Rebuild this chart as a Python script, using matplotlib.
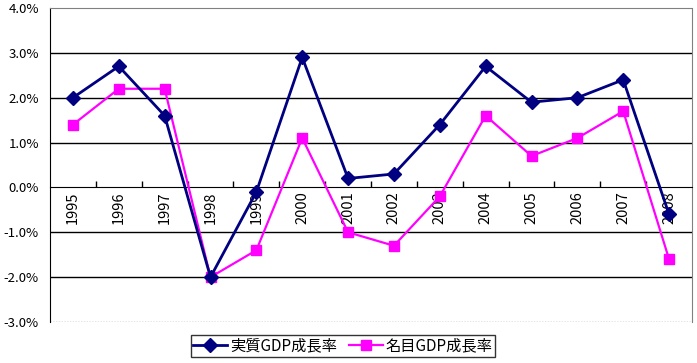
import numpy as np
import matplotlib.pyplot as plt
from matplotlib.ticker import FuncFormatter, FixedLocator

plt.rcParams['font.family'] = ['Noto Sans CJK JP', 'DejaVu Sans']

years = ['1995', '1996', '1997', '1998', '1999', '2000', '2001',
         '2002', '2003', '2004', '2005', '2006', '2007', '2008']
real_gdp = [2.0, 2.7, 1.6, -2.0, -0.1, 2.9, 0.2, 0.3, 1.4, 2.7, 1.9, 2.0, 2.4, -0.6]
nominal_gdp = [1.4, 2.2, 2.2, -2.0, -1.4, 1.1, -1.0, -1.3, -0.2, 1.6, 0.7, 1.1, 1.7, -1.6]
labels = ['実質GDP成長率', '名目GDP成長率']

fig = plt.figure(figsize=(6.97, 3.63), dpi=100)
ax = fig.add_axes([50 / 697, 41 / 363, 642 / 697, 314 / 363])

x = np.arange(len(years))
ax.plot(x, real_gdp, color='#000080', lw=2, marker='D', ms=7,
        label=labels[0], zorder=4)
ax.plot(x, nominal_gdp, color='#FF00FF', lw=1.6, marker='s', ms=7.5,
        label=labels[1], zorder=3)

ax.set_xlim(-0.5, len(years) - 0.5)
ax.set_ylim(-3, 4)

# gridlines
for v in [-2, -1, 1, 2, 3]:
    ax.axhline(v, color='black', lw=1, zorder=1)
ax.axhline(-3, color='#808080', lw=1, ls=(0, (1, 1)), zorder=1)

ax.spines['top'].set_color('#808080')
ax.spines['top'].set_linestyle((0, (1, 1)))
ax.spines['right'].set_color('#808080')
ax.spines['right'].set_linestyle((0, (1, 1)))
ax.spines['bottom'].set_position(('data', 0))
ax.spines['bottom'].set_color('black')
ax.spines['left'].set_color('black')

ax.set_yticks(np.arange(-3, 5, 1))
ax.yaxis.set_major_formatter(FuncFormatter(lambda v, p: f'{v:.1f}%'))
ax.tick_params(axis='y', length=0, pad=8, labelsize=9.5)

ax.set_xticks(x)
ax.set_xticklabels(years, rotation=90, fontsize=10.5)
ax.xaxis.set_minor_locator(FixedLocator(np.arange(0.5, len(years) - 0.5, 1)))
ax.tick_params(axis='x', which='major', length=0, pad=3)
ax.tick_params(axis='x', which='minor', direction='in', length=4, width=1)

leg = ax.legend(loc='center', bbox_to_anchor=(343 / 697, 17 / 363),
                bbox_transform=fig.transFigure, ncol=2, frameon=True,
                fancybox=False, edgecolor='black', fontsize=11,
                handlelength=2.2, columnspacing=0.8, borderpad=0.15,
                handletextpad=0.2, borderaxespad=0)
leg.get_frame().set_linewidth(1)

fig.savefig('out.png', dpi=100)
